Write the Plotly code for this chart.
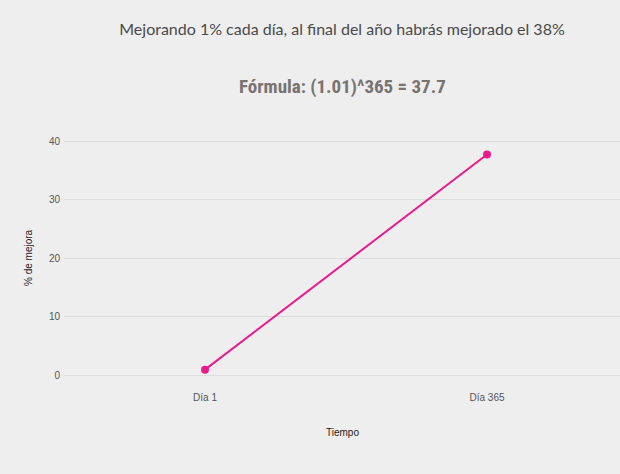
import plotly.graph_objects as go

categories = ["Día 1", "Día 365"]
values = [1, 37.7]
y_ticks = [0, 10, 20, 30, 40]

BG = "#eeeeee"
PINK = "#ea1a8b"

fig = go.Figure()
fig.add_trace(go.Scatter(
    x=categories, y=values, mode="lines+markers",
    line=dict(color=PINK, width=2),
    marker=dict(color=PINK, size=8),
    hoverinfo="x+y", showlegend=False,
))

fig.update_layout(
    width=620, height=474,
    paper_bgcolor=BG, plot_bgcolor=BG,
    margin=dict(l=64, r=0, t=130, b=89),
    title=dict(
        text="Mejorando 1% cada día, al final del año habrás mejorado el 38%",
        x=0.5, xref="paper", xanchor="center",
        y=1 - 29 / 474, yref="container", yanchor="middle",
        font=dict(family="Lato, 'Open Sans', sans-serif", size=16, color="#4a4a4a"),
    ),
    xaxis=dict(
        type="category", range=[-0.5, 1.4716],
        showgrid=False, zeroline=False, showline=False, ticks="outside",
        ticklen=3, tickcolor=BG,
        tickfont=dict(family="'Liberation Sans', Arial, sans-serif", size=10, color="#555555"),
        fixedrange=True,
    ),
    yaxis=dict(
        range=[-1.62, 41.88], tickvals=y_ticks,
        showgrid=True, gridcolor="#dcdcdc", gridwidth=1,
        zeroline=False, showline=False, ticks="",
        tickfont=dict(family="'Liberation Sans', Arial, sans-serif", size=10, color="#555555"),
        ticklabelstandoff=3,
        fixedrange=True,
    ),
    annotations=[
        dict(text="<b>Fórmula: (1.01)^365 = 37.7</b>", xref="paper", yref="paper",
             x=0.5, y=(385 - 87) / 255, xanchor="center", yanchor="middle", showarrow=False,
             font=dict(family="'Liberation Sans Narrow', 'Roboto Condensed', Roboto, sans-serif",
                       size=19, color="#787370")),
        dict(text="% de mejora", xref="paper", yref="paper",
             x=(28 - 64) / 556, y=(385 - 258) / 255, xanchor="center", yanchor="middle",
             textangle=-90, showarrow=False,
             font=dict(family="'Liberation Sans', Arial, sans-serif", size=10, color="#2a1a22")),
        dict(text="Tiempo", xref="paper", yref="paper",
             x=0.5, y=(385 - 432) / 255, xanchor="center", yanchor="middle", showarrow=False,
             font=dict(family="'Liberation Sans', Arial, sans-serif", size=10, color="#222222")),
    ],
)

fig.write_html("out.html")
